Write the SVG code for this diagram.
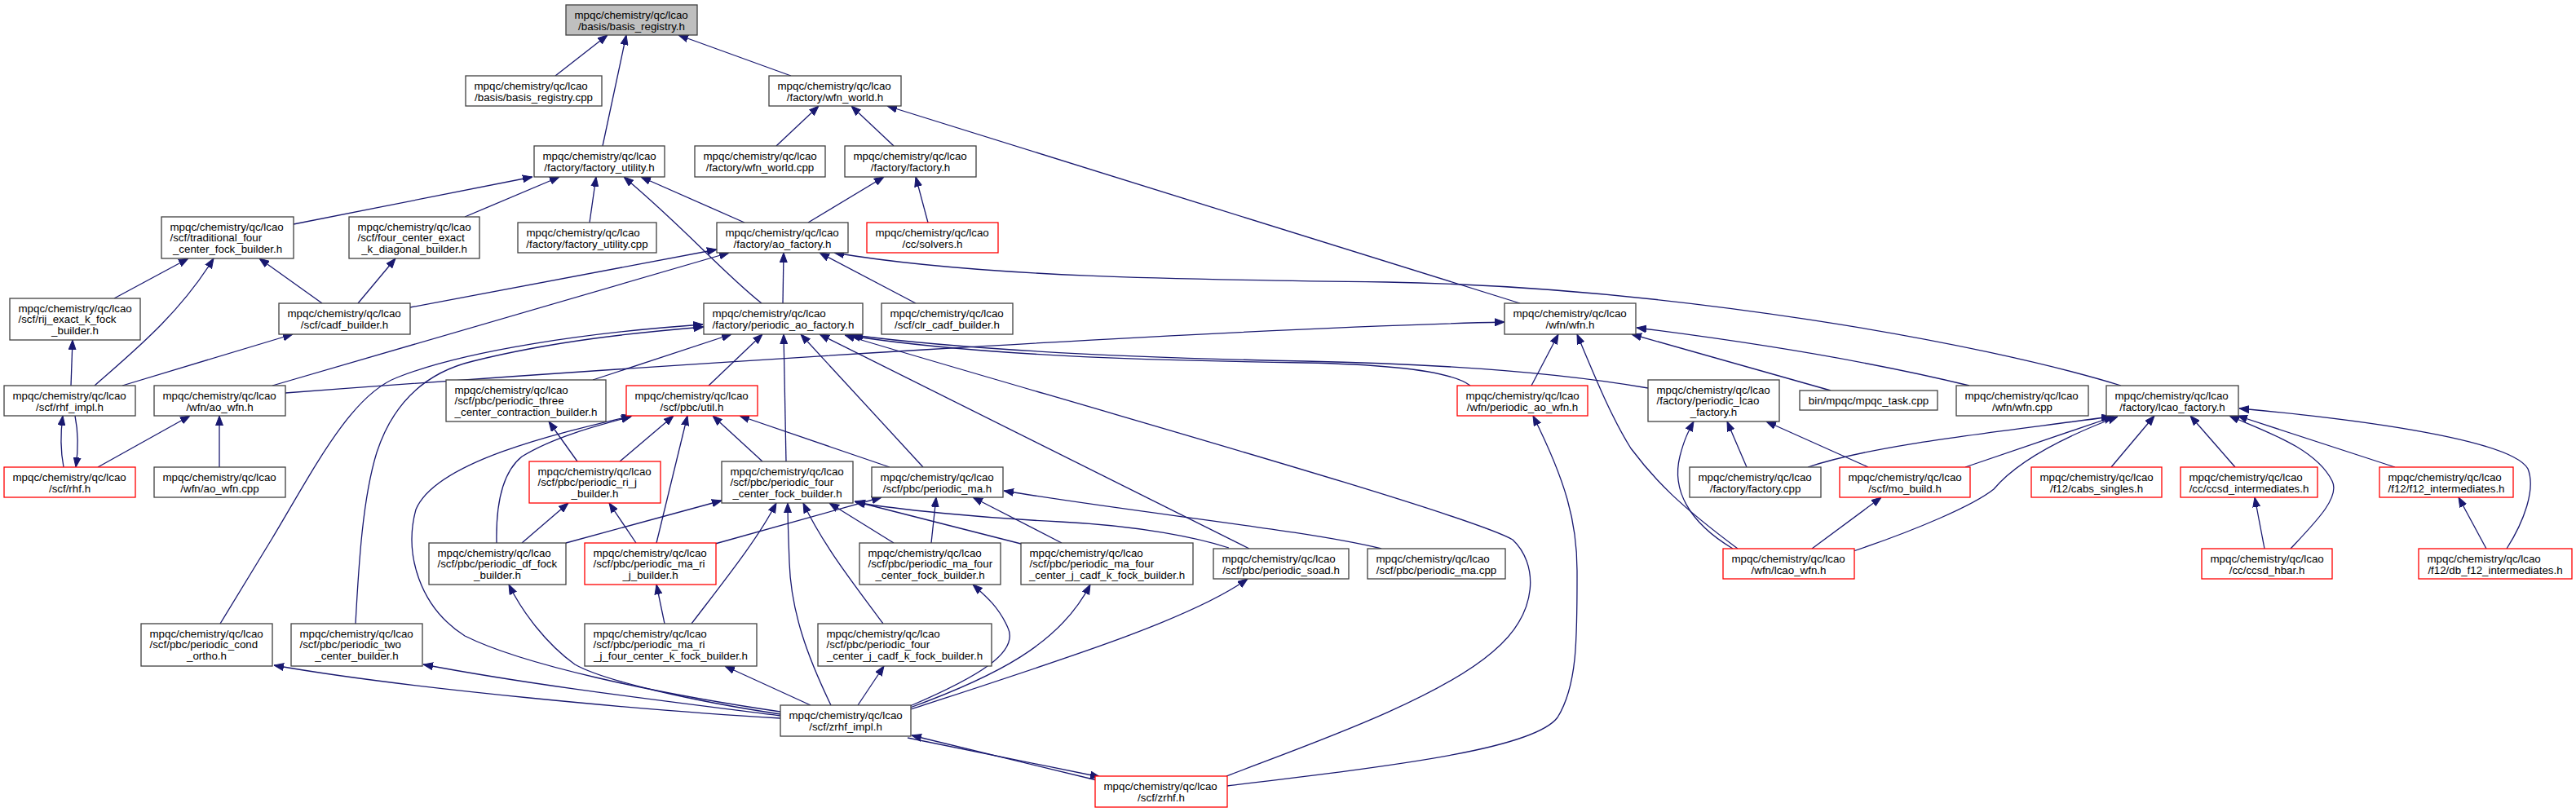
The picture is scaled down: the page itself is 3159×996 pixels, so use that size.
<svg xmlns="http://www.w3.org/2000/svg" width="3159" height="996" viewBox="0 0 3159 996">
<style>
.n rect{fill:#fff;stroke:#404040;stroke-width:1.3}
.n.r rect{stroke:#ff0000}
.n.g rect{fill:#bfbfbf}
.e path{fill:none;stroke:#191970;stroke-width:1.3;marker-end:url(#ah)}
text{font-family:"Liberation Sans",Arial,Helvetica,sans-serif;font-size:13.33px;fill:#000}
.c{text-anchor:middle}
</style>
<defs>
<marker id="ah" markerWidth="12" markerHeight="10" refX="12" refY="5" orient="auto" markerUnits="userSpaceOnUse"><path d="M0,0.5 L12,5 L0,9.5 z" fill="#191970" stroke="#191970" stroke-width="1"/></marker>
</defs>
<rect width="3159" height="996" fill="#fff"/>
<g id="edges" class="e">
<path d="M681,93 L745,43"/>
<path d="M739,179 L768,43"/>
<path d="M970,93 L832,43"/>
<path d="M952,179 L1004,130"/>
<path d="M1096,179 L1044,130"/>
<path d="M1864,372 L1088,130"/>
<path d="M360,275 L653,217"/>
<path d="M570,266 L686,217"/>
<path d="M723,273 L731,217"/>
<path d="M934,372 C885,333 840,280 765,217"/>
<path d="M913,273 L786,217"/>
<path d="M991,273 L1084,217"/>
<path d="M1138,273 L1123,217"/>
<path d="M140,366 L231,317"/>
<path d="M116,473 C165,430 220,385 262,317"/>
<path d="M395,372 L318,317"/>
<path d="M439,372 L485,317"/>
<path d="M503,377 L879,306"/>
<path d="M334,473 L894,310"/>
<path d="M960,372 L961,310"/>
<path d="M1123,372 L1005,310"/>
<path d="M2601,473 C2430,420 2050,352 1700,346 C1450,343 1200,340 1023,310"/>
<path d="M87,473 L89,417"/>
<path d="M150,473 L359,410"/>
<path d="M78,573 C74,552 74,532 77,510"/>
<path d="M92,510 C96,530 96,552 93,573"/>
<path d="M120,573 L233,510"/>
<path d="M269,573 L269,510"/>
<path d="M350,482 C800,448 1500,403 1845,395"/>
<path d="M270,765 L334,660 C385,575 430,485 487,463 C570,430 720,408 862,398"/>
<path d="M436,765 C440,690 445,610 462,555 C485,485 530,455 580,443 C680,418 780,408 863,401"/>
<path d="M727,466 L897,410"/>
<path d="M869,473 L935,410"/>
<path d="M964,566 L961,410"/>
<path d="M1132,573 L982,410"/>
<path d="M1532,673 L1005,410"/>
<path d="M1504,952 C1600,915 1760,860 1830,800 C1890,750 1885,690 1855,662 C1800,630 1300,490 1036,411"/>
<path d="M1803,473 C1780,455 1700,447 1600,445 C1400,442 1200,436 1043,412"/>
<path d="M2021,476 C1900,455 1750,446 1600,443 C1400,439 1200,431 1046,411"/>
<path d="M708,566 L673,517"/>
<path d="M760,566 L826,510"/>
<path d="M805,666 L843,510"/>
<path d="M935,566 L874,510"/>
<path d="M1091,573 L907,510"/>
<path d="M957,873 C800,850 640,815 570,780 C515,745 495,680 510,625 C535,565 690,530 775,510"/>
<path d="M609,666 C608,620 615,580 640,560 C680,535 740,520 774,511"/>
<path d="M640,666 L697,617"/>
<path d="M780,666 L747,617"/>
<path d="M694,666 L885,614"/>
<path d="M848,765 C890,710 930,660 952,617"/>
<path d="M1019,865 C990,805 970,750 968,690 C967,660 966,640 966,617"/>
<path d="M1083,765 C1050,720 1010,670 985,617"/>
<path d="M1096,666 L1017,617"/>
<path d="M1252,667 L1048,615"/>
<path d="M1507,672 C1470,660 1400,645 1300,640 C1200,635 1100,625 1049,616"/>
<path d="M877,667 L1081,610"/>
<path d="M1142,666 L1148,610"/>
<path d="M1302,666 L1193,610"/>
<path d="M1694,673 C1600,650 1400,630 1231,602"/>
<path d="M815,765 L805,717"/>
<path d="M994,865 L889,817"/>
<path d="M1052,865 L1084,817"/>
<path d="M1116,866 C1200,830 1250,800 1236,770 C1225,745 1210,732 1193,717"/>
<path d="M1116,868 C1220,830 1300,790 1337,717"/>
<path d="M1117,870 C1300,810 1460,760 1530,710"/>
<path d="M957,881 C800,872 500,845 336,816"/>
<path d="M957,878 C800,858 650,840 519,815"/>
<path d="M957,876 C850,860 740,835 705,815 C670,790 640,750 624,717"/>
<path d="M1345,957 L1118,902"/>
<path d="M1113,905 L1349,953"/>
<path d="M1505,964 C1700,940 1880,920 1910,880 C1935,840 1934,780 1934,700 C1934,640 1920,590 1880,510"/>
<path d="M1878,473 L1911,410"/>
<path d="M2131,673 C2060,620 2030,590 2000,550 C1975,510 1955,460 1934,410"/>
<path d="M2245,479 L2001,410"/>
<path d="M2415,473 C2300,445 2150,420 2007,402"/>
<path d="M2125,673 C2070,640 2050,600 2060,560 C2065,540 2070,530 2077,517"/>
<path d="M2142,573 L2118,517"/>
<path d="M2291,573 L2166,517"/>
<path d="M2222,673 L2307,610"/>
<path d="M2217,573 C2300,545 2450,530 2589,511"/>
<path d="M2410,573 L2592,511"/>
<path d="M2273,676 C2350,650 2420,620 2445,600 C2470,570 2520,540 2597,511"/>
<path d="M2589,573 L2642,510"/>
<path d="M2741,573 L2686,510"/>
<path d="M2809,673 C2840,640 2870,610 2860,590 C2840,550 2780,530 2734,510"/>
<path d="M2937,573 L2744,510"/>
<path d="M3074,673 C3095,640 3110,600 3100,575 C3080,540 2900,515 2746,501"/>
<path d="M2777,673 L2765,610"/>
<path d="M3049,673 L3015,610"/>
</g>
<g id="n_basis_registry_h" class="n g"><rect x="694" y="6" width="161" height="37"/><text><tspan x="704.5" y="23">mpqc/chemistry/qc/lcao</tspan><tspan class="c" x="774.5" y="36.5">/basis/basis_registry.h</tspan></text></g>
<g id="n_basis_registry_cpp" class="n"><rect x="571" y="93" width="167" height="37"/><text><tspan x="581.5" y="110">mpqc/chemistry/qc/lcao</tspan><tspan class="c" x="654.5" y="123.5">/basis/basis_registry.cpp</tspan></text></g>
<g id="n_wfn_world_h" class="n"><rect x="943" y="93" width="162" height="37"/><text><tspan x="953.5" y="110">mpqc/chemistry/qc/lcao</tspan><tspan class="c" x="1024" y="123.5">/factory/wfn_world.h</tspan></text></g>
<g id="n_factory_utility_h" class="n"><rect x="655" y="179" width="160" height="38"/><text><tspan x="665.5" y="196">mpqc/chemistry/qc/lcao</tspan><tspan class="c" x="735" y="209.5">/factory/factory_utility.h</tspan></text></g>
<g id="n_wfn_world_cpp" class="n"><rect x="852" y="179" width="160" height="38"/><text><tspan x="862.5" y="196">mpqc/chemistry/qc/lcao</tspan><tspan class="c" x="932" y="209.5">/factory/wfn_world.cpp</tspan></text></g>
<g id="n_factory_h" class="n"><rect x="1036" y="179" width="161" height="38"/><text><tspan x="1046.5" y="196">mpqc/chemistry/qc/lcao</tspan><tspan class="c" x="1116.5" y="209.5">/factory/factory.h</tspan></text></g>
<g id="n_traditional" class="n"><rect x="198" y="266" width="162" height="51"/><text><tspan x="208.5" y="282.5">mpqc/chemistry/qc/lcao</tspan><tspan x="208.5" y="296">/scf/traditional_four</tspan><tspan class="c" x="279" y="309.5">_center_fock_builder.h</tspan></text></g>
<g id="n_four_center_exact" class="n"><rect x="428" y="266" width="160" height="51"/><text><tspan x="438.5" y="282.5">mpqc/chemistry/qc/lcao</tspan><tspan x="438.5" y="296">/scf/four_center_exact</tspan><tspan class="c" x="508" y="309.5">_k_diagonal_builder.h</tspan></text></g>
<g id="n_factory_utility_cpp" class="n"><rect x="635" y="273" width="170" height="37"/><text><tspan x="645.5" y="290">mpqc/chemistry/qc/lcao</tspan><tspan class="c" x="720" y="303.5">/factory/factory_utility.cpp</tspan></text></g>
<g id="n_ao_factory_h" class="n"><rect x="879" y="273" width="161" height="37"/><text><tspan x="889.5" y="290">mpqc/chemistry/qc/lcao</tspan><tspan class="c" x="959.5" y="303.5">/factory/ao_factory.h</tspan></text></g>
<g id="n_solvers_h" class="n r"><rect x="1063" y="273" width="161" height="37"/><text><tspan x="1073.5" y="290">mpqc/chemistry/qc/lcao</tspan><tspan class="c" x="1143.5" y="303.5">/cc/solvers.h</tspan></text></g>
<g id="n_rij_exact_k" class="n"><rect x="12" y="366" width="160" height="51"/><text><tspan x="22.5" y="382.5">mpqc/chemistry/qc/lcao</tspan><tspan x="22.5" y="396">/scf/rij_exact_k_fock</tspan><tspan class="c" x="92" y="409.5">_builder.h</tspan></text></g>
<g id="n_cadf_builder" class="n"><rect x="342" y="372" width="161" height="38"/><text><tspan x="352.5" y="389">mpqc/chemistry/qc/lcao</tspan><tspan class="c" x="422.5" y="402.5">/scf/cadf_builder.h</tspan></text></g>
<g id="n_periodic_ao_factory" class="n"><rect x="863" y="372" width="195" height="38"/><text><tspan x="873.5" y="389">mpqc/chemistry/qc/lcao</tspan><tspan class="c" x="960.5" y="402.5">/factory/periodic_ao_factory.h</tspan></text></g>
<g id="n_clr_cadf" class="n"><rect x="1081" y="372" width="161" height="38"/><text><tspan x="1091.5" y="389">mpqc/chemistry/qc/lcao</tspan><tspan class="c" x="1161.5" y="402.5">/scf/clr_cadf_builder.h</tspan></text></g>
<g id="n_wfn_h" class="n"><rect x="1845" y="372" width="161" height="38"/><text><tspan x="1855.5" y="389">mpqc/chemistry/qc/lcao</tspan><tspan class="c" x="1925.5" y="402.5">/wfn/wfn.h</tspan></text></g>
<g id="n_rhf_impl" class="n"><rect x="5" y="473" width="161" height="37"/><text><tspan x="15.5" y="490">mpqc/chemistry/qc/lcao</tspan><tspan class="c" x="85.5" y="503.5">/scf/rhf_impl.h</tspan></text></g>
<g id="n_ao_wfn_h" class="n"><rect x="189" y="473" width="161" height="37"/><text><tspan x="199.5" y="490">mpqc/chemistry/qc/lcao</tspan><tspan class="c" x="269.5" y="503.5">/wfn/ao_wfn.h</tspan></text></g>
<g id="n_three_center" class="n"><rect x="547" y="466" width="196" height="51"/><text><tspan x="557.5" y="482.5">mpqc/chemistry/qc/lcao</tspan><tspan x="557.5" y="496">/scf/pbc/periodic_three</tspan><tspan class="c" x="645" y="509.5">_center_contraction_builder.h</tspan></text></g>
<g id="n_util_h" class="n r"><rect x="768" y="473" width="161" height="37"/><text><tspan x="778.5" y="490">mpqc/chemistry/qc/lcao</tspan><tspan class="c" x="848.5" y="503.5">/scf/pbc/util.h</tspan></text></g>
<g id="n_periodic_ao_wfn" class="n r"><rect x="1787" y="473" width="160" height="37"/><text><tspan x="1797.5" y="490">mpqc/chemistry/qc/lcao</tspan><tspan class="c" x="1867" y="503.5">/wfn/periodic_ao_wfn.h</tspan></text></g>
<g id="n_periodic_lcao_factory" class="n"><rect x="2021" y="466" width="161" height="51"/><text><tspan x="2031.5" y="482.5">mpqc/chemistry/qc/lcao</tspan><tspan x="2031.5" y="496">/factory/periodic_lcao</tspan><tspan class="c" x="2101.5" y="509.5">_factory.h</tspan></text></g>
<g id="n_mpqc_task" class="n"><rect x="2207" y="479" width="169" height="24"/><text class="c" x="2291.5" y="495.5">bin/mpqc/mpqc_task.cpp</text></g>
<g id="n_wfn_cpp" class="n"><rect x="2399" y="473" width="162" height="37"/><text><tspan x="2409.5" y="490">mpqc/chemistry/qc/lcao</tspan><tspan class="c" x="2480" y="503.5">/wfn/wfn.cpp</tspan></text></g>
<g id="n_lcao_factory" class="n"><rect x="2583" y="473" width="162" height="37"/><text><tspan x="2593.5" y="490">mpqc/chemistry/qc/lcao</tspan><tspan class="c" x="2664" y="503.5">/factory/lcao_factory.h</tspan></text></g>
<g id="n_rhf_h" class="n r"><rect x="5" y="573" width="161" height="37"/><text><tspan x="15.5" y="590">mpqc/chemistry/qc/lcao</tspan><tspan class="c" x="85.5" y="603.5">/scf/rhf.h</tspan></text></g>
<g id="n_ao_wfn_cpp" class="n"><rect x="189" y="573" width="161" height="37"/><text><tspan x="199.5" y="590">mpqc/chemistry/qc/lcao</tspan><tspan class="c" x="269.5" y="603.5">/wfn/ao_wfn.cpp</tspan></text></g>
<g id="n_ri_j" class="n r"><rect x="649" y="566" width="161" height="51"/><text><tspan x="659.5" y="582.5">mpqc/chemistry/qc/lcao</tspan><tspan x="659.5" y="596">/scf/pbc/periodic_ri_j</tspan><tspan class="c" x="729.5" y="609.5">_builder.h</tspan></text></g>
<g id="n_four_center_fock" class="n"><rect x="885" y="566" width="161" height="51"/><text><tspan x="895.5" y="582.5">mpqc/chemistry/qc/lcao</tspan><tspan x="895.5" y="596">/scf/pbc/periodic_four</tspan><tspan class="c" x="965.5" y="609.5">_center_fock_builder.h</tspan></text></g>
<g id="n_periodic_ma_h" class="n"><rect x="1069" y="573" width="161" height="37"/><text><tspan x="1079.5" y="590">mpqc/chemistry/qc/lcao</tspan><tspan class="c" x="1149.5" y="603.5">/scf/pbc/periodic_ma.h</tspan></text></g>
<g id="n_factory_cpp" class="n"><rect x="2072" y="573" width="161" height="37"/><text><tspan x="2082.5" y="590">mpqc/chemistry/qc/lcao</tspan><tspan class="c" x="2152.5" y="603.5">/factory/factory.cpp</tspan></text></g>
<g id="n_mo_build" class="n r"><rect x="2256" y="573" width="160" height="37"/><text><tspan x="2266.5" y="590">mpqc/chemistry/qc/lcao</tspan><tspan class="c" x="2336" y="603.5">/scf/mo_build.h</tspan></text></g>
<g id="n_cabs_singles" class="n r"><rect x="2491" y="573" width="160" height="37"/><text><tspan x="2501.5" y="590">mpqc/chemistry/qc/lcao</tspan><tspan class="c" x="2571" y="603.5">/f12/cabs_singles.h</tspan></text></g>
<g id="n_ccsd_intermediates" class="n r"><rect x="2674" y="573" width="168" height="37"/><text><tspan x="2684.5" y="590">mpqc/chemistry/qc/lcao</tspan><tspan class="c" x="2758" y="603.5">/cc/ccsd_intermediates.h</tspan></text></g>
<g id="n_f12_intermediates" class="n r"><rect x="2918" y="573" width="164" height="37"/><text><tspan x="2928.5" y="590">mpqc/chemistry/qc/lcao</tspan><tspan class="c" x="3000" y="603.5">/f12/f12_intermediates.h</tspan></text></g>
<g id="n_df_fock" class="n"><rect x="526" y="666" width="168" height="51"/><text><tspan x="536.5" y="682.5">mpqc/chemistry/qc/lcao</tspan><tspan x="536.5" y="696">/scf/pbc/periodic_df_fock</tspan><tspan class="c" x="610" y="709.5">_builder.h</tspan></text></g>
<g id="n_ma_ri_j_builder" class="n r"><rect x="717" y="666" width="161" height="51"/><text><tspan x="727.5" y="682.5">mpqc/chemistry/qc/lcao</tspan><tspan x="727.5" y="696">/scf/pbc/periodic_ma_ri</tspan><tspan class="c" x="797.5" y="709.5">_j_builder.h</tspan></text></g>
<g id="n_ma_four_center_fock" class="n"><rect x="1054" y="666" width="173" height="51"/><text><tspan x="1064.5" y="682.5">mpqc/chemistry/qc/lcao</tspan><tspan x="1064.5" y="696">/scf/pbc/periodic_ma_four</tspan><tspan class="c" x="1140.5" y="709.5">_center_fock_builder.h</tspan></text></g>
<g id="n_ma_four_center_j_cadf" class="n"><rect x="1252" y="666" width="211" height="51"/><text><tspan x="1262.5" y="682.5">mpqc/chemistry/qc/lcao</tspan><tspan x="1262.5" y="696">/scf/pbc/periodic_ma_four</tspan><tspan class="c" x="1357.5" y="709.5">_center_j_cadf_k_fock_builder.h</tspan></text></g>
<g id="n_soad" class="n"><rect x="1488" y="673" width="166" height="37"/><text><tspan x="1498.5" y="690">mpqc/chemistry/qc/lcao</tspan><tspan class="c" x="1571" y="703.5">/scf/pbc/periodic_soad.h</tspan></text></g>
<g id="n_periodic_ma_cpp" class="n"><rect x="1677" y="673" width="169" height="37"/><text><tspan x="1687.5" y="690">mpqc/chemistry/qc/lcao</tspan><tspan class="c" x="1761.5" y="703.5">/scf/pbc/periodic_ma.cpp</tspan></text></g>
<g id="n_lcao_wfn" class="n r"><rect x="2113" y="673" width="161" height="37"/><text><tspan x="2123.5" y="690">mpqc/chemistry/qc/lcao</tspan><tspan class="c" x="2193.5" y="703.5">/wfn/lcao_wfn.h</tspan></text></g>
<g id="n_ccsd_hbar" class="n r"><rect x="2700" y="673" width="160" height="37"/><text><tspan x="2710.5" y="690">mpqc/chemistry/qc/lcao</tspan><tspan class="c" x="2780" y="703.5">/cc/ccsd_hbar.h</tspan></text></g>
<g id="n_db_f12" class="n r"><rect x="2966" y="673" width="188" height="37"/><text><tspan x="2976.5" y="690">mpqc/chemistry/qc/lcao</tspan><tspan class="c" x="3060" y="703.5">/f12/db_f12_intermediates.h</tspan></text></g>
<g id="n_cond_ortho" class="n"><rect x="173" y="765" width="161" height="52"/><text><tspan x="183.5" y="781.5">mpqc/chemistry/qc/lcao</tspan><tspan x="183.5" y="795">/scf/pbc/periodic_cond</tspan><tspan class="c" x="253.5" y="808.5">_ortho.h</tspan></text></g>
<g id="n_two_center" class="n"><rect x="357" y="765" width="161" height="52"/><text><tspan x="367.5" y="781.5">mpqc/chemistry/qc/lcao</tspan><tspan x="367.5" y="795">/scf/pbc/periodic_two</tspan><tspan class="c" x="437.5" y="808.5">_center_builder.h</tspan></text></g>
<g id="n_ma_ri_j_four_center" class="n"><rect x="717" y="765" width="211" height="52"/><text><tspan x="727.5" y="781.5">mpqc/chemistry/qc/lcao</tspan><tspan x="727.5" y="795">/scf/pbc/periodic_ma_ri</tspan><tspan class="c" x="822.5" y="808.5">_j_four_center_k_fock_builder.h</tspan></text></g>
<g id="n_four_center_j_cadf" class="n"><rect x="1003" y="765" width="213" height="52"/><text><tspan x="1013.5" y="781.5">mpqc/chemistry/qc/lcao</tspan><tspan x="1013.5" y="795">/scf/pbc/periodic_four</tspan><tspan class="c" x="1109.5" y="808.5">_center_j_cadf_k_fock_builder.h</tspan></text></g>
<g id="n_zrhf_impl" class="n"><rect x="957" y="865" width="160" height="38"/><text><tspan x="967.5" y="882">mpqc/chemistry/qc/lcao</tspan><tspan class="c" x="1037" y="895.5">/scf/zrhf_impl.h</tspan></text></g>
<g id="n_zrhf" class="n r"><rect x="1343" y="952" width="162" height="38"/><text><tspan x="1353.5" y="969">mpqc/chemistry/qc/lcao</tspan><tspan class="c" x="1424" y="982.5">/scf/zrhf.h</tspan></text></g>
</svg>
